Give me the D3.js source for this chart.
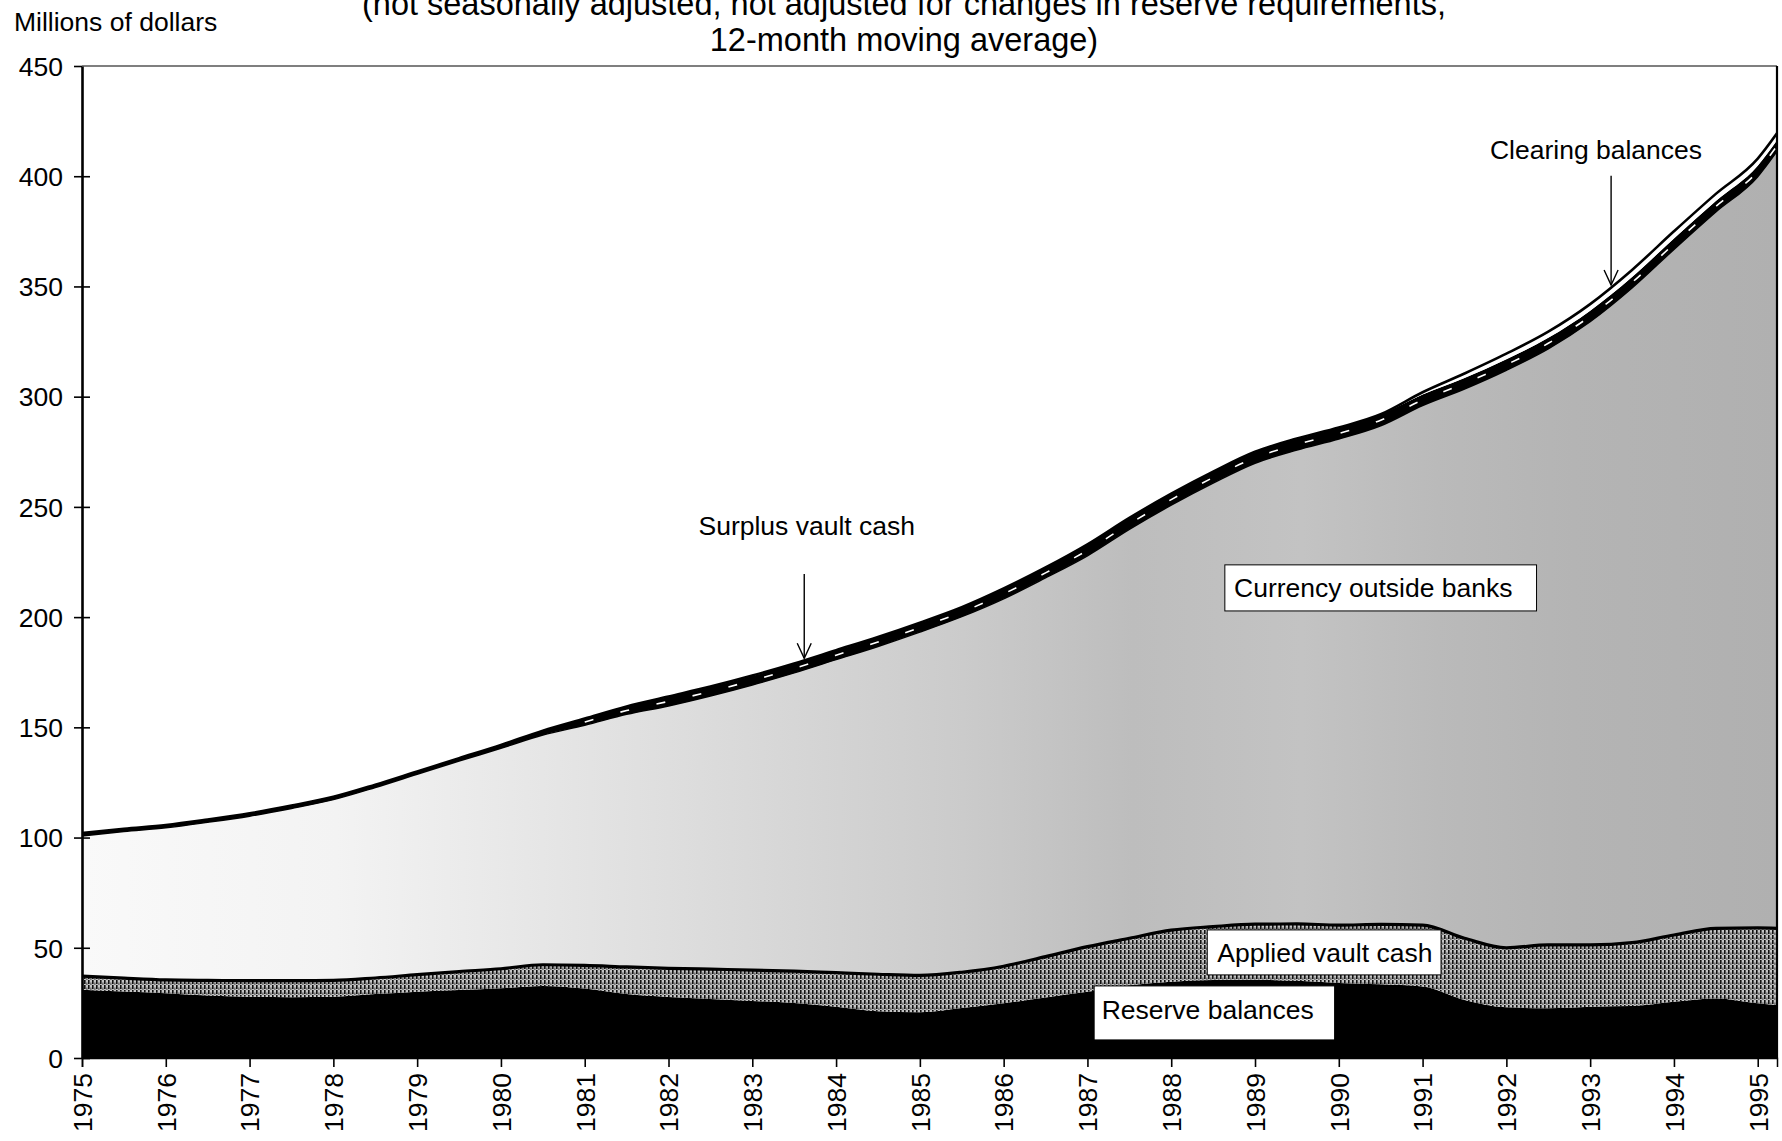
<!DOCTYPE html>
<html><head><meta charset="utf-8">
<script src="https://cdn.jsdelivr.net/npm/d3@7"></script>
<style>
body{margin:0;background:#fff}
svg{display:block}
text{font-family:"Liberation Sans",Arial,Helvetica,sans-serif;fill:#000}
</style>
</head><body>
<svg id="chart" width="1782" height="1141"></svg>
<script>
// ---- data, 12-month moving averages ----
const years = [1975,1975.5,1976,1976.5,1977,1977.5,1978,1978.5,1979,1979.5,
  1980,1980.5,1981,1981.5,1982,1982.5,1983,1983.5,1984,1984.5,
  1985,1985.5,1986,1986.5,1987,1987.5,1988,1988.5,1989,1989.5,
  1990,1990.5,1991,1991.5,1992,1992.5,1993,1993.5,1994,1994.5,1995,1995.23];
const reserveBalances = [31.0,30.2,29.4,28.3,27.8,27.6,27.8,29.0,30.1,30.8,
  31.6,32.7,31.5,29.0,27.7,26.8,25.9,25.0,23.2,21.2,
  20.8,22.7,24.8,27.5,30.0,33.0,34.6,35.4,35.5,35.0,
  34.0,33.4,32.4,26.3,23.0,22.6,23.3,23.6,25.5,27.0,24.8,24.0];
const appliedVaultCash = [6.2,6.0,6.0,6.9,7.3,7.5,7.4,7.3,7.7,8.4,
  8.9,9.6,10.5,12.3,13.0,13.5,14.0,14.4,15.5,16.8,
  16.7,16.2,16.8,18.5,20.5,21.3,23.4,24.2,25.2,25.8,
  26.3,27.2,27.9,28.0,27.0,28.7,28.0,28.7,30.3,31.8,34.2,34.8];
const currencyOutsideBanks = [63.5,66.5,69.0,71.7,74.6,78.1,82.0,86.4,90.9,95.5,
  100.0,104.2,108.9,114.6,119.0,123.9,129.3,135.3,142.0,148.7,
  155.7,161.3,166.7,171.8,177.3,185.5,192.8,201.2,209.1,215.0,
  220.5,226.2,235.7,249.2,262.0,270.4,282.7,297.0,311.0,325.0,340.8,352.5];
const surplusVaultCash = [1.3,1.3,1.3,1.3,1.3,1.3,1.3,1.3,1.3,1.3,
  1.5,2.0,3.0,3.4,4.1,4.1,4.1,4.1,4.1,4.1,
  4.1,4.1,4.5,4.5,5.0,5.0,5.0,5.0,5.0,5.0,
  5.0,5.0,5.0,5.0,5.0,5.0,5.0,5.0,5.0,5.0,5.0,5.0];
const clearingBalances = [0,0,0,0,0,0,0,0,0,0,
  0,0,0.1,0.2,0.2,0.2,0.2,0.2,0.2,0.2,
  0.2,0.2,0.2,0.2,0.2,0.2,0.2,0.2,0.2,0.2,
  0.2,0.2,1.0,2.0,2.5,2.8,3.0,3.2,3.2,3.2,3.2,3.2];
const yearTicks = [1975,1976,1977,1978,1979,1980,1981,1982,1983,1984,1985,
  1986,1987,1988,1989,1990,1991,1992,1993,1994,1995];
const valueTicks = [0,50,100,150,200,250,300,350,400,450];
const titleLines = ["(not seasonally adjusted, not adjusted for changes in reserve requirements,",
  "12-month moving average)"];
const unitLabel = "Millions of dollars";
const seriesKeys = ["reserve","applied","currency","surplus","clearing"];

// ---- layout ----
const M = {left:82, right:1777, top:66, bottom:1058};
const svg = d3.select("#chart");
const x = d3.scaleLinear().domain([1975, 1995.23]).range([M.left, M.right]);
const y = d3.scaleLinear().domain([0, 450]).range([M.bottom, M.top]);
const FONT = 26.5;

const rows = years.map((yr,i)=>({year:yr, reserve:reserveBalances[i], applied:appliedVaultCash[i],
  currency:currencyOutsideBanks[i], surplus:surplusVaultCash[i], clearing:clearingBalances[i]}));
const stacked = d3.stack().keys(seriesKeys)(rows);
const S = Object.fromEntries(stacked.map(s=>[s.key,s]));

const defs = svg.append("defs");
defs.append("clipPath").attr("id","plot").append("rect")
  .attr("x",M.left).attr("y",M.top).attr("width",M.right-M.left).attr("height",M.bottom-M.top);
const grad = defs.append("linearGradient").attr("id","curGrad")
  .attr("gradientUnits","userSpaceOnUse").attr("x1",x(1975)).attr("x2",x(1995.23)).attr("y1",0).attr("y2",0);
[[0,"#f9f9f9"],[0.15,"#f3f3f3"],[0.3,"#e3e3e3"],[0.42,"#d6d6d6"],[0.52,"#cbcbcb"],[0.62,"#bdbdbd"],
 [0.72,"#c3c3c3"],[0.8,"#bababa"],[0.88,"#b4b4b4"],[1,"#b0b0b0"]]
  .forEach(([o,c])=>grad.append("stop").attr("offset",o).attr("stop-color",c));
const pat = defs.append("pattern").attr("id","hatch").attr("patternUnits","userSpaceOnUse")
  .attr("width",4).attr("height",5);
pat.append("rect").attr("width",4).attr("height",5).attr("fill","#c4c4c4");
pat.append("rect").attr("x",0).attr("y",0).attr("width",1.6).attr("height",4).attr("fill","#111");
pat.append("rect").attr("x",2.4).attr("y",2.5).attr("width",1).attr("height",2.5).attr("fill","#444");

const area = d3.area().x(d=>x(d.data.year)).y0(d=>y(d[0])).y1(d=>y(d[1])).curve(d3.curveMonotoneX);
const topLine = d3.line().x(d=>x(d.data.year)).y(d=>y(d[1])).curve(d3.curveMonotoneX);
const midLine = d3.line().x(d=>x(d.data.year)).y(d=>y((d[0]+d[1])/2)).curve(d3.curveMonotoneX);

const g = svg.append("g").attr("clip-path","url(#plot)");
const fills = {reserve:"#000", applied:"url(#hatch)", currency:"url(#curGrad)", surplus:"#000", clearing:"#fff"};
seriesKeys.forEach(k=>g.append("path").datum(S[k]).attr("d",area).attr("fill",fills[k]));
g.append("path").datum(S.applied).attr("d",topLine).attr("fill","none").attr("stroke","#000").attr("stroke-width",3.2);
g.append("path").datum(S.currency).attr("d",topLine).attr("fill","none").attr("stroke","#000").attr("stroke-width",1.5);
g.append("path").datum(S.surplus.filter(d=>d.data.year>=1981)).attr("d",midLine).attr("fill","none")
  .attr("stroke","#fff").attr("stroke-width",1.6).attr("stroke-dasharray","9,28");
g.append("path").datum(S.clearing).attr("d",topLine).attr("fill","none").attr("stroke","#000").attr("stroke-width",2.6);

// frame
svg.append("line").attr("x1",M.left).attr("x2",M.right).attr("y1",M.top).attr("y2",M.top).attr("stroke","#000").attr("stroke-width",1.2);
svg.append("line").attr("x1",M.right).attr("x2",M.right).attr("y1",M.top).attr("y2",M.bottom).attr("stroke","#000").attr("stroke-width",2.2);

// y axis
const yAxis = svg.append("g").attr("transform",`translate(${M.left},0)`)
  .call(d3.axisLeft(y).tickValues(valueTicks).tickSize(0).tickPadding(0).tickFormat(d3.format("d")));
yAxis.select(".domain").attr("stroke","#000").attr("stroke-width",2.6);
yAxis.selectAll(".tick line").remove();
yAxis.selectAll(".tick").append("line").attr("x1",-8).attr("x2",d=>d===450?0:8).attr("stroke","#000").attr("stroke-width",1.6);
yAxis.selectAll(".tick text").attr("x",-19).attr("dy","0.35em").attr("font-size",FONT)
  .attr("font-family",'"Liberation Sans",Arial,sans-serif').attr("fill","#000");

// x axis
const xAxis = svg.append("g").attr("transform",`translate(0,${M.bottom})`)
  .call(d3.axisBottom(x).tickValues(yearTicks).tickSize(9).tickFormat(d3.format("d")));
xAxis.select(".domain").attr("stroke","#000").attr("stroke-width",1.5);
xAxis.selectAll(".tick line").attr("stroke","#000").attr("stroke-width",1.6);
xAxis.selectAll(".tick text").attr("transform","rotate(-90)").attr("text-anchor","end")
  .attr("x",-15).attr("y",0).attr("dy","0.35em").attr("font-size",FONT)
  .attr("font-family",'"Liberation Sans",Arial,sans-serif').attr("fill","#000");

// titles (first line is partly cropped at the top edge, as in the source scan)
svg.append("text").attr("x",14).attr("y",31).attr("font-size",26.5).text(unitLabel);
titleLines.forEach((t,i)=>svg.append("text").attr("x",904).attr("y",[15,51][i])
  .attr("text-anchor","middle").attr("font-size",32.5).text(t));

// helpers
function totalAt(yr){
  const top = S.clearing;
  const i = d3.bisector(d=>d.data.year).right(top, yr);
  const a = top[Math.max(0,i-1)], b = top[Math.min(top.length-1,i)];
  if (a===b) return a[1];
  const t = (yr-a.data.year)/(b.data.year-a.data.year);
  return a[1] + t*(b[1]-a[1]);
}
function arrow(yr, fromVal){
  const x0 = x(yr), y0 = y(fromVal), y1 = y(totalAt(yr)) - 2;
  const ga = svg.append("g").attr("stroke","#000").attr("stroke-width",1.4).attr("fill","none");
  ga.append("line").attr("x1",x0).attr("x2",x0).attr("y1",y0).attr("y2",y1);
  ga.append("path").attr("d",`M${x0-7},${y1-15}L${x0},${y1}L${x0+7},${y1-15}`);
}

// annotations (positions in data space)
svg.append("text").attr("x",x(1983.65)).attr("y",y(241.5)).attr("dy","0.35em")
  .attr("text-anchor","middle").attr("font-size",FONT).text("Surplus vault cash");
arrow(1983.62, 219.5);
svg.append("text").attr("x",x(1993.07)).attr("y",y(412)).attr("dy","0.35em")
  .attr("text-anchor","middle").attr("font-size",FONT).text("Clearing balances");
arrow(1993.25, 400.2);

const boxes = [
  {text:"Currency outside banks", x0:1988.64, x1:1992.36, v0:223.7, v1:202.8, tx:1988.75, tv:213.5},
  {text:"Applied vault cash", x0:1988.43, x1:1991.22, v0:58.1, v1:37.7, tx:1988.55, tv:47.8},
  {text:"Reserve balances", x0:1987.08, x1:1989.95, v0:32.7, v1:8.2, tx:1987.17, tv:21.8}
];
boxes.forEach(b=>{
  svg.append("rect").attr("x",x(b.x0)).attr("y",y(b.v0)).attr("width",x(b.x1)-x(b.x0)).attr("height",y(b.v1)-y(b.v0))
    .attr("fill","#fff").attr("stroke","#000").attr("stroke-width",1);
  svg.append("text").attr("x",x(b.tx)).attr("y",y(b.tv)).attr("dy","0.35em").attr("font-size",FONT).text(b.text);
});
</script>
</body></html>
